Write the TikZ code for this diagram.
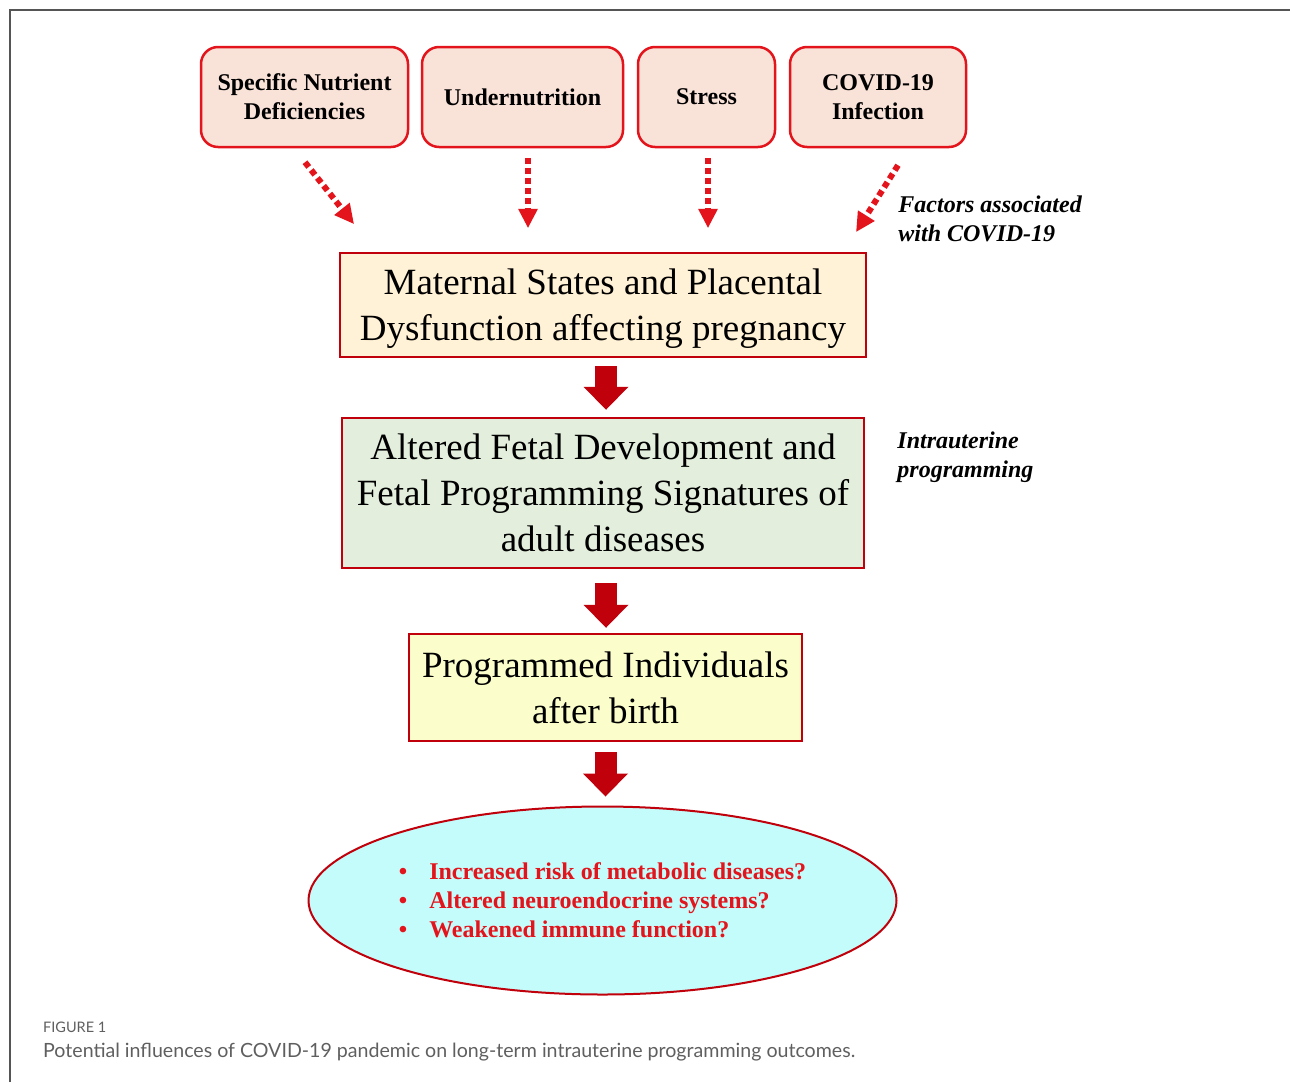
\documentclass[tikz,border=0pt]{standalone}
\usepackage{fontspec}
\setmainfont{Liberation Serif}
\newfontfamily\capfont{Lato}
\usetikzlibrary{positioning, calc, arrows.meta, shapes}
\definecolor{factred}{HTML}{E3141B}
\definecolor{factfill}{HTML}{F9E2D8}
\definecolor{boxred}{HTML}{C0000A}
\definecolor{matfill}{HTML}{FFF2D6}
\definecolor{fetfill}{HTML}{E3EFDC}
\definecolor{profill}{HTML}{FBFDCB}
\definecolor{outfill}{HTML}{C4FBFB}
\definecolor{capgray}{HTML}{5F5F5F}
\definecolor{framegray}{HTML}{555555}
\tikzset{factor/.style={draw=factred, fill=factfill, line width=2.5pt, rounded corners=17pt, minimum height=100pt, inner sep=0pt, align=center, font=\fontsize{24}{29}\selectfont\bfseries}}
\tikzset{stage/.style={draw=boxred, line width=2.5pt, inner sep=0pt, align=center, font=\fontsize{37}{46}\selectfont}}
\tikzset{note/.style={anchor=west, align=left, inner sep=0pt, font=\fontsize{24}{29}\selectfont\bfseries\itshape}}
\tikzset{dotarrow/.style={draw=factred, line width=6pt, dash pattern=on 6pt off 4pt, -{Triangle[width=20pt,length=19pt,line width=0pt]}}}
\tikzset{bigarrow/.style={draw=boxred, line width=22pt, -{Triangle[width=45pt,length=23pt,line width=0pt]}}}

\begin{document}
\begin{tikzpicture}[x=1pt, y=-1pt]
      \useasboundingbox (0,0) rectangle (1290,1082);
      \draw[framegray, line width=1.5pt] (10,1082) -- (10,10) -- (1290,10);

      % factors
      \node[factor, minimum width=207pt] (nd) at (304.5,97) {Specific Nutrient\\Deficiencies};
      \node[factor, minimum width=201pt] (un) at (522.5,97) {Undernutrition};
      \node[factor, minimum width=137pt] (st) at (706.5,97) {Stress};
      \node[factor, minimum width=176pt] (cv) at (878,97) {COVID-19\\Infection};

      % stages
      \node[stage, fill=matfill, minimum width=526pt, minimum height=104pt, text depth=0pt] (ms) at (603,305) {Maternal States and Placental\\Dysfunction affecting pregnancy};
      \node[stage, fill=fetfill, minimum width=522pt, minimum height=150pt] (fp) at (603,493) {Altered Fetal Development and\\Fetal Programming Signatures of\\adult diseases};
      \node[stage, fill=profill, minimum width=393pt, minimum height=107pt] (pi) at (605.5,687.5) {Programmed Individuals\\after birth};
      \node[ellipse, draw=boxred, line width=2pt, fill=outfill, minimum width=588pt, minimum height=188pt, inner sep=0pt, align=left, text=factred, font=\fontsize{24}{29}\selectfont\bfseries] (out) at (602.5,900.5)
        {\textbullet\hspace{22pt}Increased risk of metabolic diseases?\\
         \textbullet\hspace{22pt}Altered neuroendocrine systems?\\
         \textbullet\hspace{22pt}Weakened immune function?};

      \node[note] (fa) at ($(ms.north east)+(31,-33)$) {Factors associated\\with COVID-19};
      \node[note] (ip) at ($(fp.north east)+(32,40)$) {Intrauterine\\programming};

      \draw[dotarrow] ($(nd.south)+(0.5,14)$) -- ($(ms.north west)+(15,-28)$);
      \draw[dotarrow] ($(un.south)+(5.5,10)$) -- ($(un.south |- ms.north)+(5.5,-24)$);
      \draw[dotarrow] ($(st.south)+(1.5,10)$) -- ($(st.south |- ms.north)+(1.5,-24)$);
      \draw[dotarrow] ($(cv.south)+(20,17)$) -- ($(ms.north east)+(-11,-20)$);

      \draw[bigarrow, shorten <=8pt, shorten >=7pt] ($(ms.south)+(3,0)$) -- ($(ms.south |- fp.north)+(3,0)$);
      \draw[bigarrow, shorten <=14pt, shorten >=5pt] ($(fp.south)+(3,0)$) -- ($(fp.south |- pi.north)+(3,0)$);
      \draw[bigarrow, shorten <=10pt, shorten >=9pt] (pi.south) -- (pi.south |- out.north);

      % caption
      \node[anchor=base west, inner sep=0pt, text=capgray, font=\capfont\fontsize{14.5}{16}\selectfont] (fig) at (43,1032) {FIGURE 1};
      \node[anchor=base west, inner sep=0pt, text=capgray, font=\capfont\fontsize{19.6}{22}\selectfont] (cap) at (43,1057) {Potential influences of COVID-19 pandemic on long-term intrauterine programming outcomes.};
\end{tikzpicture}
\end{document}
